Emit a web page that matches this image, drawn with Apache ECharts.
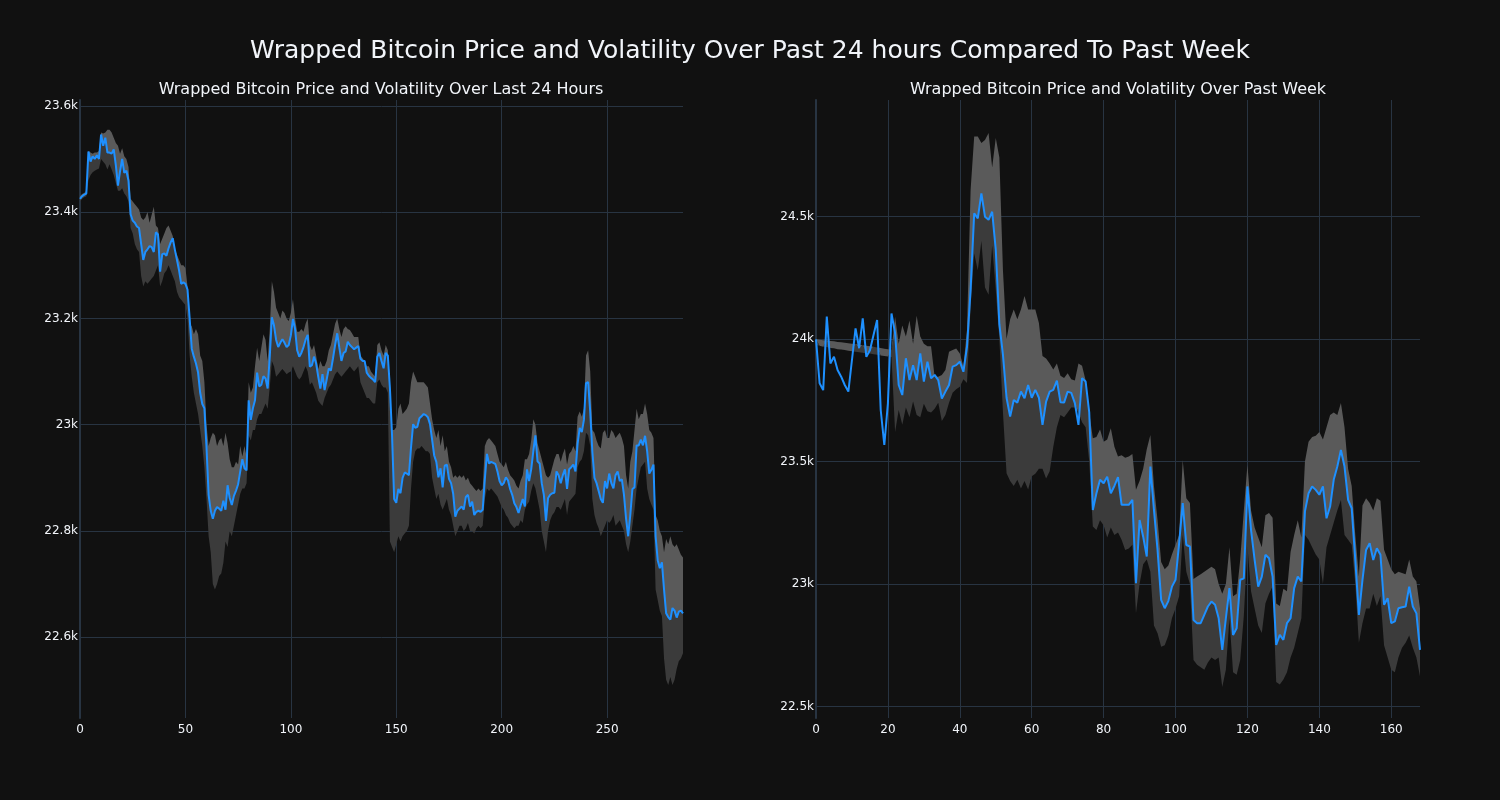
<!DOCTYPE html>
<html>
<head>
<meta charset="utf-8">
<script src="https://cdn.jsdelivr.net/npm/echarts@6/dist/echarts.min.js"></script>
<style>html,body{margin:0;padding:0;background:#111111;}#c{width:1500px;height:800px;}</style>
</head>
<body>
<div id="c"></div>
<script>
// ---------- Data: last 24 hours (5-minute steps) ----------
const dayPrice = [23425,23430,23433,23435,23514,23495,23505,23500,23507,23500,
23546,23525,23540,23512,23512,23510,23518,23488,23450,23477,
23500,23474,23478,23459,23396,23384,23380,23373,23370,23340,
23310,23325,23330,23336,23334,23325,23362,23358,23288,23321,
23322,23318,23332,23343,23351,23329,23310,23290,23265,23268,
23265,23254,23200,23143,23128,23115,23098,23060,23039,23031,
22957,22868,22838,22823,22838,22845,22842,22838,22857,22840,
22886,22862,22849,22866,22876,22888,22912,22935,22918,22914,
23046,23009,23031,23046,23098,23072,23075,23091,23087,23068,
23128,23202,23187,23160,23146,23154,23161,23154,23146,23150,
23168,23199,23180,23140,23128,23135,23146,23160,23169,23109,
23112,23128,23115,23090,23068,23095,23065,23085,23106,23102,
23125,23150,23172,23145,23120,23135,23138,23156,23150,23146,
23142,23145,23148,23124,23120,23120,23098,23092,23088,23085,
23080,23128,23135,23120,23106,23135,23130,23068,22980,22860,
22853,22879,22871,22900,22910,22908,22905,22957,23001,22994,
22996,23012,23016,23020,23018,23014,23001,22972,22942,22930,
22901,22918,22882,22923,22925,22898,22890,22870,22827,22838,
22842,22846,22840,22864,22868,22846,22855,22830,22836,22838,
22836,22840,22897,22945,22927,22930,22928,22926,22912,22894,
22886,22890,22901,22895,22879,22868,22852,22845,22834,22848,
22860,22846,22916,22894,22916,22950,22980,22931,22927,22890,
22868,22819,22862,22868,22871,22872,22912,22905,22890,22905,
22916,22879,22916,22920,22925,22912,22964,22994,22986,23009,
23078,23080,23024,22949,22900,22890,22875,22860,22853,22894,
22880,22908,22890,22880,22905,22912,22894,22897,22868,22823,
22790,22830,22879,22882,22961,22961,22972,22961,22979,22950,
22908,22915,22925,22790,22745,22730,22741,22690,22645,22638,
22633,22655,22650,22637,22648,22650,22645];

const dayUpper = [23430,23434,23436,23440,23515,23512,23510,23512,23512,23515,
23550,23548,23550,23555,23555,23550,23540,23530,23525,23510,
23520,23505,23500,23485,23425,23420,23415,23410,23405,23390,
23385,23390,23400,23380,23395,23410,23375,23370,23340,23350,
23360,23370,23375,23365,23355,23330,23320,23310,23300,23300,
23295,23260,23190,23185,23170,23180,23170,23130,23120,23080,
23000,22960,22975,22985,22980,22960,22970,22975,22960,22985,
22965,22935,22920,22920,22930,22925,22960,22940,22960,22940,
23080,23060,23070,23110,23145,23120,23145,23170,23160,23120,
23180,23270,23250,23220,23210,23200,23215,23210,23200,23195,
23210,23236,23200,23175,23175,23180,23175,23190,23200,23150,
23140,23150,23130,23105,23120,23110,23110,23120,23140,23150,
23170,23190,23200,23180,23165,23180,23185,23180,23178,23172,
23165,23165,23165,23130,23125,23120,23110,23110,23100,23095,
23090,23150,23155,23140,23130,23150,23140,23080,22990,22990,
22995,23030,23040,23020,23025,23030,23040,23080,23100,23090,
23080,23080,23080,23080,23075,23070,23040,23010,22990,22975,
22990,22960,22980,22950,22960,22930,22920,22900,22905,22900,
22905,22900,22905,22895,22900,22890,22885,22880,22875,22880,
22875,22880,22960,22970,22975,22970,22965,22960,22945,22930,
22925,22920,22930,22915,22905,22900,22895,22885,22880,22895,
22905,22935,22935,22945,22970,23010,23000,22965,22950,22935,
22920,22905,22900,22905,22920,22935,22945,22945,22930,22945,
22955,22925,22945,22950,22960,22950,23015,23025,23015,23030,
23130,23140,23100,22990,22985,22970,22960,22955,22985,22990,
22975,22975,22990,22985,22975,22980,22985,22975,22960,22905,
22880,22930,22950,22990,23030,23010,23020,23020,23040,23020,
22990,22985,22975,22830,22820,22800,22790,22760,22785,22775,
22790,22775,22770,22775,22765,22755,22750];

const dayLower = [23420,23425,23428,23430,23460,23470,23475,23478,23480,23482,
23500,23495,23490,23480,23490,23480,23470,23455,23440,23440,
23445,23435,23430,23420,23370,23360,23340,23330,23325,23280,
23260,23270,23265,23270,23275,23280,23290,23300,23260,23270,
23285,23290,23300,23290,23280,23270,23250,23240,23235,23230,
23225,23200,23130,23090,23060,23040,23020,22990,22960,22920,
22860,22790,22760,22700,22690,22700,22715,22720,22740,22780,
22770,22800,22790,22810,22830,22850,22870,22880,22880,22890,
22980,22970,22990,22990,23010,23020,23020,23030,23040,23030,
23070,23120,23110,23090,23095,23100,23105,23100,23095,23098,
23100,23110,23100,23090,23085,23090,23100,23110,23100,23075,
23080,23070,23060,23045,23040,23035,23050,23060,23070,23075,
23085,23095,23100,23095,23090,23095,23100,23105,23110,23105,
23100,23105,23110,23080,23070,23060,23050,23050,23045,23040,
23040,23080,23085,23075,23070,23070,23060,22780,22770,22760,
22775,22790,22780,22790,22795,22800,22810,22880,22930,22950,
22955,22955,22960,22955,22950,22950,22945,22900,22880,22860,
22870,22850,22840,22850,22860,22840,22830,22810,22790,22800,
22810,22810,22800,22805,22815,22800,22800,22795,22805,22810,
22805,22810,22860,22880,22875,22880,22875,22870,22865,22855,
22845,22840,22830,22825,22815,22810,22805,22810,22810,22820,
22815,22840,22850,22855,22875,22890,22880,22860,22840,22800,
22780,22760,22800,22820,22830,22835,22845,22845,22840,22850,
22860,22830,22855,22860,22865,22870,22920,22930,22935,22950,
22985,22980,22960,22860,22830,22815,22805,22790,22800,22810,
22820,22815,22820,22830,22810,22815,22820,22810,22800,22775,
22760,22780,22810,22840,22880,22900,22920,22925,22930,22880,
22860,22850,22840,22690,22670,22650,22640,22560,22520,22510,
22525,22510,22520,22540,22555,22560,22570];

// ---------- Data: past week (hourly steps) ----------
const weekPrice = [23998,23819,23791,24091,23900,23927,23873,23846,23812,23785,
23914,24043,23962,24084,23927,23954,24016,24077,23710,23567,
23737,24104,24023,23812,23771,23921,23832,23893,23832,23941,
23826,23907,23839,23853,23832,23757,23785,23812,23887,23893,
23907,23866,23968,24200,24513,24492,24594,24499,24486,24519,
24364,24060,23935,23760,23683,23751,23740,23785,23758,23812,
23760,23792,23760,23649,23744,23785,23792,23830,23742,23740,
23785,23780,23738,23649,23840,23826,23700,23302,23370,23425,
23411,23438,23370,23400,23436,23323,23323,23323,23343,23003,
23261,23193,23112,23479,23302,23139,22935,22901,22930,22989,
23017,23166,23330,23159,23153,22853,22840,22840,22874,22908,
22928,22915,22860,22731,22860,22983,22792,22819,23017,23023,
23398,23221,23098,22989,23030,23119,23105,23030,22751,22792,
22772,22840,22860,22983,23030,23010,23296,23370,23398,23384,
23364,23398,23268,23316,23425,23479,23547,23479,23343,23309,
23098,22874,23017,23139,23166,23098,23146,23119,22915,22942,
22840,22847,22901,22905,22908,22989,22908,22880,22731];

const weekUpper = [24000,23997,23995,23994,23991,23990,23987,23986,23984,23982,
23980,23979,23976,23974,23972,23970,23968,23965,23963,23960,
23958,23956,24090,23980,24055,24010,24075,23980,24095,24010,
23980,23970,23970,23846,23846,23853,23873,23948,23955,23961,
23941,23887,24036,24608,24826,24826,24800,24812,24840,24700,
24820,24740,24280,24000,24080,24120,24080,24120,24175,24120,
24120,24120,24065,23930,23920,23900,23875,23900,23850,23840,
23860,23835,23830,23900,23890,23830,23700,23595,23600,23630,
23580,23590,23635,23560,23520,23525,23515,23520,23530,23384,
23420,23470,23550,23608,23400,23261,23090,23060,23075,23120,
23160,23200,23506,23350,23330,23020,23030,23040,23050,23060,
23070,23060,23000,22960,23000,23150,22950,22960,23100,23300,
23486,23300,23230,23190,23150,23280,23290,23270,22920,22910,
22980,22970,23130,23200,23260,23190,23500,23580,23600,23605,
23620,23590,23640,23690,23700,23690,23738,23640,23470,23400,
23200,23030,23320,23350,23330,23300,23350,23340,23140,23100,
23060,23040,23050,23045,23040,23100,23030,23010,22900];

const weekLower = [23975,23972,23968,23967,23963,23962,23958,23957,23955,23952,
23950,23948,23946,23944,23941,23940,23937,23935,23932,23930,
23928,23926,23620,23710,23650,23720,23680,23745,23690,23680,
23735,23705,23700,23715,23740,23665,23690,23740,23780,23795,
23805,23835,23820,24132,24349,24280,24400,24210,24180,24380,
24200,24000,23700,23452,23420,23400,23425,23390,23420,23385,
23440,23450,23470,23470,23430,23460,23560,23640,23690,23680,
23700,23720,23720,23700,23660,23640,23500,23234,23220,23260,
23240,23190,23230,23200,23210,23180,23139,23145,23160,22880,
23000,23080,23100,23050,22830,22799,22744,22750,22790,22860,
22900,22950,23200,23050,23000,22690,22670,22660,22650,22680,
22700,22690,22700,22580,22650,22860,22640,22630,22690,22870,
23153,22970,22900,22830,22800,22920,22960,22990,22600,22590,
22610,22640,22700,22740,22800,22860,23200,23180,23150,23120,
23100,23000,23150,23200,23250,23300,23343,23200,23180,23160,
23000,22760,22840,22900,22900,22960,22910,22950,22750,22700,
22650,22640,22700,22740,22760,22790,22740,22700,22622];

const TXT = '#f2f5fa';
const GRID = '#283442';
const FONT = 'DejaVu Sans';
const DARK = '#3b3b3b';
const LIGHT = '#5a5a5a';
const BLUE = '#1e90ff';

function kFmt(v) { return (Math.round(v / 100) / 10) + 'k'; }

// Band drawn as two polygons (upper..price and price..lower), positioned through the axis scales.
function bandSeries(price, upper, lower, idx) {
  return {
    type: 'custom', xAxisIndex: idx, yAxisIndex: idx, silent: true, z: 1,
    clip: true,
    data: [[0, price[0]]],
    encode: { x: 0, y: 1 },
    renderItem: function (params, api) {
      const top = [], mid = [], bot = [];
      for (let i = 0; i < price.length; i++) {
        const lo = Math.min(lower[i], upper[i]);
        const hi = Math.max(lower[i], upper[i]);
        const m = Math.min(Math.max(price[i], lo), hi);
        top.push(api.coord([i, hi]));
        mid.push(api.coord([i, m]));
        bot.push(api.coord([i, lo]));
      }
      const lightPts = top.concat(mid.slice().reverse());
      const darkPts = mid.concat(bot.slice().reverse());
      return {
        type: 'group',
        children: [
          { type: 'polygon', shape: { points: darkPts }, style: { fill: DARK, stroke: null } },
          { type: 'polygon', shape: { points: lightPts }, style: { fill: LIGHT, stroke: null } }
        ]
      };
    }
  };
}

function xAxisCfg(idx, max, interval) {
  return {
    type: 'value', gridIndex: idx, min: 0, max: max, interval: interval,
    axisLine: { show: false }, axisTick: { show: false },
    axisLabel: { color: TXT, fontFamily: FONT, fontSize: 12, margin: 6, showMaxLabel: false },
    splitLine: { show: true, showMinLine: false, showMaxLine: false, lineStyle: { color: GRID, width: 1 } }
  };
}
function yAxisCfg(idx, min, max) {
  return {
    type: 'value', gridIndex: idx, min: min, max: max, splitNumber: 5, scale: true,
    axisLine: { show: true, onZero: false, lineStyle: { color: GRID, width: 2 } },
    axisTick: { show: false },
    axisLabel: { color: TXT, fontFamily: FONT, fontSize: 12, margin: 2,
      showMinLabel: false, showMaxLabel: false, formatter: kFmt },
    splitLine: { show: true, showMinLine: false, showMaxLine: false, lineStyle: { color: GRID, width: 1 } }
  };
}

const chart = echarts.init(document.getElementById('c'), null, { renderer: 'canvas' });
chart.setOption({
  backgroundColor: '#111111',
  animation: false,
  title: [
    { text: 'Wrapped Bitcoin Price and Volatility Over Past 24 hours Compared To Past Week',
      left: 745, top: 34, textAlign: 'center',
      textStyle: { color: TXT, fontFamily: FONT, fontSize: 25, fontWeight: 'normal' } },
    { text: 'Wrapped Bitcoin Price and Volatility Over Last 24 Hours',
      left: 376, top: 77, textAlign: 'center',
      textStyle: { color: TXT, fontFamily: FONT, fontSize: 16, fontWeight: 'normal' } },
    { text: 'Wrapped Bitcoin Price and Volatility Over Past Week',
      left: 1113, top: 77, textAlign: 'center',
      textStyle: { color: TXT, fontFamily: FONT, fontSize: 16, fontWeight: 'normal' } }
  ],
  grid: [
    { left: 80, top: 100, width: 603, height: 618 },
    { left: 816, top: 100, width: 604, height: 618 }
  ],
  xAxis: [ xAxisCfg(0, 286, 50), xAxisCfg(1, 168, 20) ],
  yAxis: [ yAxisCfg(0, 22448, 23611), yAxisCfg(1, 22453, 24975) ],
  series: [
    bandSeries(dayPrice, dayUpper, dayLower, 0),
    { type: 'line', xAxisIndex: 0, yAxisIndex: 0, data: dayPrice.map((v, i) => [i, v]),
      symbol: 'none', lineStyle: { color: BLUE, width: 2 }, z: 3 },
    bandSeries(weekPrice, weekUpper, weekLower, 1),
    { type: 'line', xAxisIndex: 1, yAxisIndex: 1, data: weekPrice.map((v, i) => [i, v]),
      symbol: 'none', lineStyle: { color: BLUE, width: 2 }, z: 3 }
  ]
});
</script>
</body>
</html>
